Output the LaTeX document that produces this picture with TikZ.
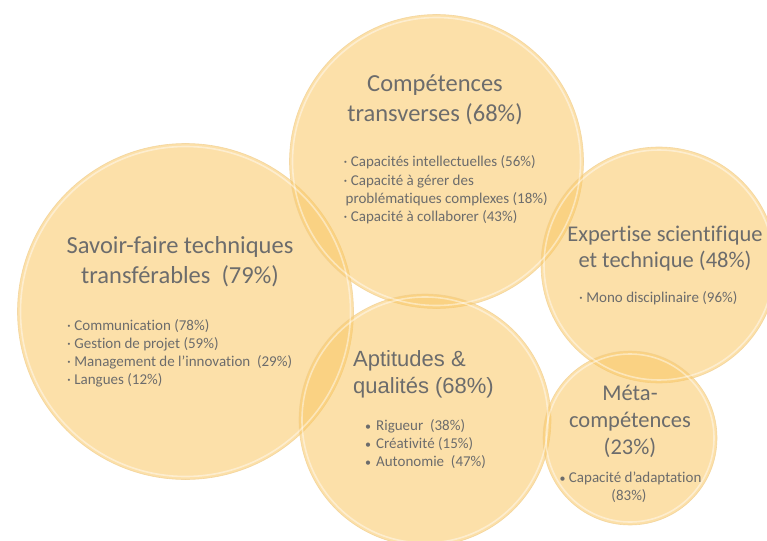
\documentclass[tikz,border=0pt]{standalone}
\usepackage{fontspec}
\setmainfont[Ligatures=NoCommon]{Carlito}
\newfontfamily\arialfont{Liberation Sans}
\definecolor{bubblefill}{RGB}{250,200,100}
\definecolor{bubbleedge}{RGB}{240,205,140}
\definecolor{textgray}{RGB}{108,108,108}
\newcommand{\roundbullet}{{\fontsize{12}{18}\selectfont •}}
\tikzset{
    bubble/.style={fill=bubblefill, fill opacity=0.55, draw=bubbleedge, draw opacity=0.7, line width=0.6pt},
    rim/.style={draw=white, draw opacity=0.45, line width=1.6pt},
    head/.style={anchor=base, inner sep=0pt, text=textgray, font=\fontsize{24.5}{30}\selectfont},
    smallhead/.style={anchor=base, inner sep=0pt, text=textgray, font=\fontsize{22.5}{27}\selectfont},
    arialhead/.style={anchor=base west, inner sep=0pt, text=textgray, font=\arialfont\fontsize{22}{27}\selectfont},
    item/.style={anchor=base west, inner sep=0pt, text=textgray, font=\fontsize{15}{18}\selectfont},
    centreitem/.style={item, anchor=base},
}
\begin{document}
\begin{tikzpicture}[x=1pt, y=-1pt]
                \useasboundingbox (0,0) rectangle (767,540);
                \fill[white] (0,0) rectangle (767,540);
                \draw[bubble] (185.5,311.5) circle[radius=168pt];
                \draw[bubble] (436.5,161.5) circle[radius=147pt];
                \draw[bubble] (659,265) circle[radius=118pt];
                \draw[bubble] (425,420) circle[radius=126pt];
                \draw[bubble] (630,438) circle[radius=87pt];
                \draw[rim] (185.5,311.5) circle[radius=165pt];
                \draw[rim] (436.5,161.5) circle[radius=144pt];
                \draw[rim] (659,265) circle[radius=115pt];
                \draw[rim] (425,420) circle[radius=123pt];
                \draw[rim] (630,438) circle[radius=84pt];
                \node[head] (sf1) at (180,253) {Savoir-faire techniques};
                \node[head] (sf2) at (180,283) {transférables~ (79\%)};
                \node[item] (sfa) at (67,330) {· Communication (78\%)};
                \node[item] (sfb) at (67,348) {· Gestion de projet (59\%)};
                \node[item] (sfc) at (67,366) {· Management de l’innovation~ (29\%)};
                \node[item] (sfd) at (67,384) {· Langues (12\%)};
                \node[head] (ct1) at (435,92) {Compétences};
                \node[head] (ct2) at (435,122) {transverses (68\%)};
                \node[item] (cta) at (343.5,167) {· Capacités intellectuelles (56\%)};
                \node[item] (ctb) at (343.5,185) {· Capacité à gérer des};
                \node[item] (ctc) at (345.5,203) {problématiques complexes (18\%)};
                \node[item] (ctd) at (343.5,221) {· Capacité à collaborer (43\%)};
                \node[smallhead] (es1) at (665,241) {Expertise scientifique};
                \node[smallhead] (es2) at (665,267) {et technique (48\%)};
                \node[item] (esa) at (579,302) {· Mono disciplinaire (96\%)};
                \node[arialhead] (aq1) at (353,366) {Aptitudes \&};
                \node[arialhead] (aq2) at (353,393) {qualités (68\%)};
                \node[item] (aqa) at (365,430) {\roundbullet\hspace{5pt}Rigueur~ (38\%)};
                \node[item] (aqb) at (365,448) {\roundbullet\hspace{5pt}Créativité (15\%)};
                \node[item] (aqc) at (365,466) {\roundbullet\hspace{5pt}Autonomie~ (47\%)};
                \node[smallhead] (mc1) at (630,400) {Méta-};
                \node[smallhead] (mc2) at (630,427) {compétences};
                \node[smallhead] (mc3) at (630,454) {(23\%)};
                \node[centreitem] (mca) at (630.5,482) {\roundbullet\ Capacité d’adaptation};
                \node[centreitem] (mcb) at (629,500) {(83\%)};
            \end{tikzpicture}
\end{document}
